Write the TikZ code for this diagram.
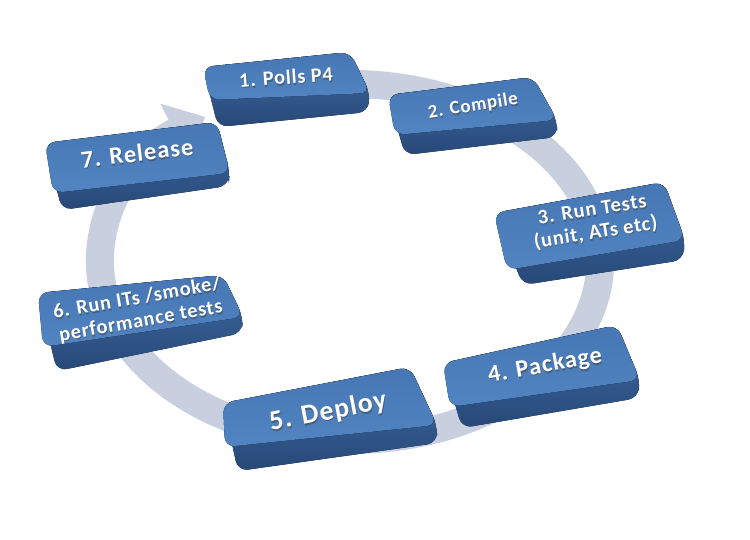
\documentclass[tikz,border=0pt]{standalone}
\usepackage{fontspec}
\setmainfont{Carlito}
\usetikzlibrary{arrows.meta,calc}
\definecolor{ringc}{HTML}{C8CFDF}
\definecolor{facetop}{HTML}{4677B4}
\definecolor{facebot}{HTML}{5184C1}
\definecolor{sidetop}{HTML}{3F6CA5}
\definecolor{sidebot}{HTML}{274877}
\tikzset{
  sideface/.style={top color=sidetop, bottom color=sidebot, rounded corners=10pt},
  topface/.style={top color=facetop, bottom color=facebot, rounded corners=10pt},
  txtmain/.style={text=white, align=center, inner sep=0pt, transform shape},
  txtshade/.style={text=black!75, align=center, inner sep=0pt, transform shape, opacity=0.5},
  cyclering/.style={ringc, line width=28pt, -{Triangle[width=62pt,length=34pt]}}
}
\newcommand\keycap[6]{%
  \fill[sideface] #1 -- #2 -- #3 -- #5 -- #6 -- cycle;
  \fill[topface] #1 -- #2 -- #3 -- #4 -- cycle;
}
\newcommand\steplabel[7]{%
  \node[txtshade, rotate=#4, font=\bfseries\fontsize{#5}{#6}\selectfont\addfontfeatures{LetterSpace=4}] (#1s) at (#2+0.8,#3+1.6) {#7};
  \node[txtmain, rotate=#4, font=\bfseries\fontsize{#5}{#6}\selectfont\addfontfeatures{LetterSpace=4}] (#1) at (#2,#3) {#7};
}
\begin{document}
\begin{tikzpicture}[x=1pt,y=-1pt]
\fill[white] (0,0) rectangle (750,539);
\useasboundingbox (0,0) rectangle (750,539);
% cycle ring with arrow
\coordinate (ringstart) at (306.6,86.7);
\draw[cyclering] (ringstart) arc[start angle=-100, end angle=234.6, x radius=250, y radius=178];
% boxes
\keycap{(203,67)}{(350,52)}{(370,93)}{(210,100)}{(368,112)}{(218,127)}
\keycap{(388,95)}{(533,77)}{(557,120)}{(395,135)}{(557,137)}{(405,155)}
\keycap{(494,213)}{(664,182)}{(685,240)}{(507,270)}{(683,260)}{(523,285)}
\keycap{(443,363)}{(617,325)}{(640,380)}{(450,407)}{(638,398)}{(462,428)}
\keycap{(223,403)}{(410,367)}{(437,425)}{(225,447)}{(437,443)}{(238,471)}
\keycap{(38,293)}{(223,275)}{(243,317)}{(43,347)}{(242,333)}{(57,371)}
\keycap{(45,143)}{(217,122)}{(230,173)}{(53,193)}{(228,186)}{(62,210)}
% labels
\steplabel{t1}{286}{77}{4}{20.3}{22}{1. Polls P4}
\steplabel{t2}{473}{106}{9}{18.8}{21}{2. Compile}
\steplabel{t3}{594}{222}{9}{20.5}{23}{3. Run Tests\\(unit, ATs etc)}
\steplabel{t4}{545}{366}{10}{24.2}{26}{4. Package}
\steplabel{t5}{328}{412}{11}{27.7}{30}{5. Deploy}
\steplabel{t6}{139}{310}{10}{20.3}{23}{6. Run ITs /smoke/\\performance tests}
\steplabel{t7}{137}{153}{7}{24.5}{26}{7. Release}
\end{tikzpicture}
\end{document}
